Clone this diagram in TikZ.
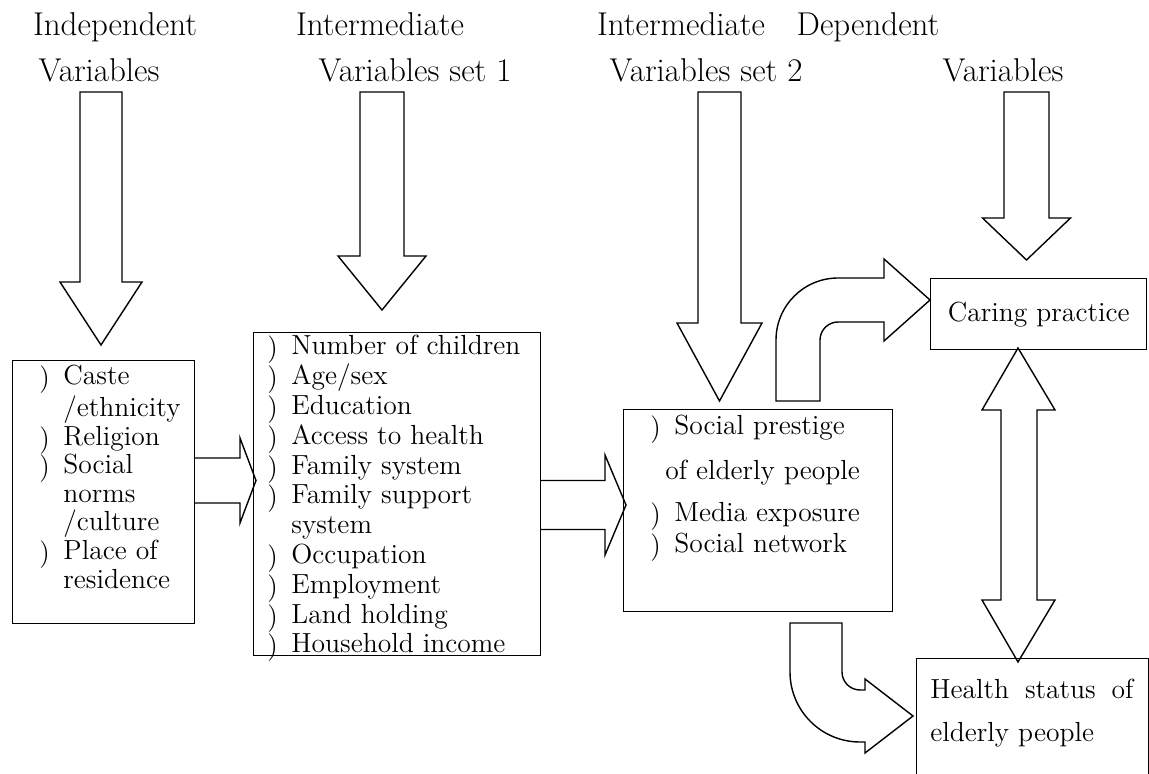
\documentclass[tikz,border=0pt]{standalone}
\usepackage{tikz}
\usetikzlibrary{positioning}
\tikzset{>=latex}
\tikzstyle{frame} = [draw, rectangle, line width=0.7pt, inner sep=0, anchor=north west]
\tikzstyle{items} = [draw=none, inner sep=0, align=left, font=\fontsize{13.8}{14.9}\selectfont]
\tikzstyle{head} = [draw=none, inner sep=0, anchor=base, font=\fontsize{16.5}{18}\selectfont]
\tikzstyle{blk} = [draw, line width=0.7pt, line join=miter]
\newcommand{\bul}{\makebox[12pt][l]{\raisebox{-1pt}{)}}}
\newcommand{\ind}{\hspace*{12pt}}
% block arrows: x, top, base of head, tip, half shaft, half head
\newcommand{\downblk}[6]{\draw [blk] (#1-#5,#2) -- (#1+#5,#2) -- (#1+#5,#3) -- (#1+#6,#3) -- (#1,#4) -- (#1-#6,#3) -- (#1-#5,#3) -- cycle;}
\newcommand{\rightblk}[6]{\draw [blk] (#2,#1-#5) -- (#3,#1-#5) -- (#3,#1-#6) -- (#4,#1) -- (#3,#1+#6) -- (#3,#1+#5) -- (#2,#1+#5);}

\begin{document}
\begin{tikzpicture}[x=0.5pt, y=-0.5pt]
\useasboundingbox (0,0) rectangle (1149,774);
\clip (0,0) rectangle (1149,774);

\node [head] (indephead) at (115,36) {Independent};
\node [head] (indepvar) at (99,82) {Variables};
\node [head] (interahead) at (380,36) {Intermediate};
\node [head] (interavar) at (415,82) {Variables set 1};
\node [head] (interbhead) at (681,36) {Intermediate};
\node [head] (interbvar) at (706,82) {Variables set 2};
\node [head] (dephead) at (868,36) {Dependent};
\node [head] (depvar) at (1003,82) {Variables};

\node [frame, minimum width=91pt, minimum height=131.5pt] (indep) at (12,360) {};
\node [items, font=\fontsize{13.8}{14.3}\selectfont, below right=2.5pt and 13.5pt of indep.north west] (indeplist) {\bul Caste\\ \ind /ethnicity\\ \bul Religion\\ \bul Social\\ \ind norms\\ \ind /culture\\ \bul Place of\\ \ind residence};

\node [frame, minimum width=143.5pt, minimum height=161.5pt] (intera) at (253,332) {};
\node [items, below right=1.5pt and 7pt of intera.north west] (interalist) {\bul Number of children\\ \bul Age/sex\\ \bul Education\\ \bul Access to health\\ \bul Family system\\ \bul Family support\\ \ind system\\ \bul Occupation\\ \bul Employment\\ \bul Land holding\\ \bul Household income};

\node [frame, minimum width=134.5pt, minimum height=101pt] (interb) at (623,409) {};
\node [items, below right=3pt and 13.5pt of interb.north west] (interblist) {\bul Social prestige\\[7.6pt] \hspace*{7.5pt}of elderly people\\[6.1pt] \bul Media exposure\\[0.6pt] \bul Social network};

\node [frame, minimum width=108pt, minimum height=35.5pt, font=\fontsize{13.8}{14.9}\selectfont] (care) at (930,278) {Caring practice};

\node [frame, minimum width=116pt, minimum height=66pt] (health) at (916,658) {};
\node [items, below right=10.5pt and 7pt of health.north west] (healthtext) {\makebox[101.5pt][s]{Health\hfill status\hfill of}\\[6.6pt] elderly people};

\downblk{101}{92}{282}{345}{21}{41}
\downblk{382}{92}{256}{310}{22}{44}
\downblk{719.5}{92}{323}{401}{21.5}{42.5}
\downblk{1026.5}{92}{218}{260}{22.5}{44}

\rightblk{480.5}{194}{240}{256}{22.5}{42.5}
\rightblk{505}{540}{605}{626}{24.5}{50}

%\draw [<->] (care) to (health);
\draw [blk] (1018,348) -- (1055,410) -- (1037,410) -- (1037,600) -- (1055,600) -- (1018,662) -- (982,600) -- (1001,600) -- (1001,410) -- (982,410) -- cycle;

\draw [blk] (776,401) -- (776,340) .. controls (776,305.8) and (803.8,278) .. (838,278) -- (884,278) -- (884,259) -- (930,300) -- (884,341) -- (884,322) -- (838,322) .. controls (828.1,322) and (820,330.1) .. (820,340) -- (820,401) -- cycle;

\draw [blk] (790,623) -- (790,672) .. controls (790,710.7) and (821.3,742) .. (860,742) -- (865,742) -- (865,753) -- (913,716) -- (865,679) -- (865,690) -- (860,690) .. controls (850.1,690) and (842,681.9) .. (842,672) -- (842,623) -- cycle;
\end{tikzpicture}
\end{document}
